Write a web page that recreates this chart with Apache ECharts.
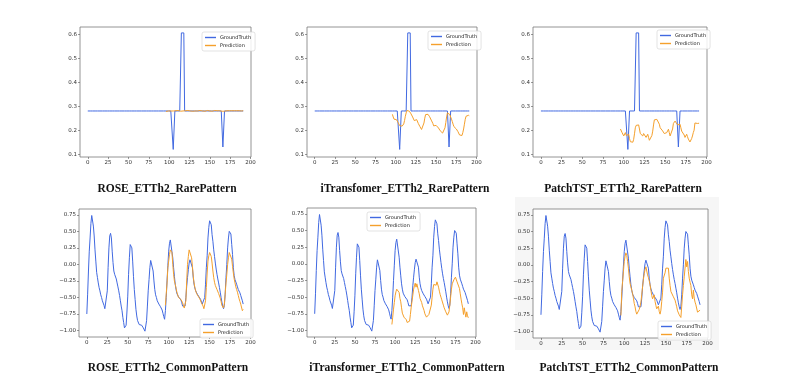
<!DOCTYPE html>
<html>
<head>
<meta charset="utf-8">
<script src="https://cdn.jsdelivr.net/npm/echarts@6/dist/echarts.min.js"></script>
<style>html,body{margin:0;padding:0;background:#fff}#c{width:798px;height:382px}</style>
</head>
<body>
<div id="c"></div>
<script>
// ---------- DATA ----------
const xTicks = [0, 25, 50, 75, 100, 125, 150, 175, 200];
const rareTicks = [0.1, 0.2, 0.3, 0.4, 0.5, 0.6];
const commonTicks = [-1.0, -0.75, -0.5, -0.25, 0, 0.25, 0.5, 0.75];
const predStart = 96;

const titlesRare = ["ROSE_ETTh2_RarePattern", "iTransfomer_ETTh2_RarePattern", "PatchTST_ETTh2_RarePattern"];
const titlesCommon = ["ROSE_ETTh2_CommonPattern", "iTransformer_ETTh2_CommonPattern", "PatchTST_ETTh2_CommonPattern"];

// Ground truth, rare pattern (t = 0..191)
const gtRare = [
0.28,0.28,0.28,0.28,0.28,0.28,0.28,0.28,0.28,0.28,0.28,0.28,0.28,0.28,0.28,0.28,
0.28,0.28,0.28,0.28,0.28,0.28,0.28,0.28,0.28,0.28,0.28,0.28,0.28,0.28,0.28,0.28,
0.28,0.28,0.28,0.28,0.28,0.28,0.28,0.28,0.28,0.28,0.28,0.28,0.28,0.28,0.28,0.28,
0.28,0.28,0.28,0.28,0.28,0.28,0.28,0.28,0.28,0.28,0.28,0.28,0.28,0.28,0.28,0.28,
0.28,0.28,0.28,0.28,0.28,0.28,0.28,0.28,0.28,0.28,0.28,0.28,0.28,0.28,0.28,0.28,
0.28,0.28,0.28,0.28,0.28,0.28,0.28,0.28,0.28,0.28,0.28,0.28,0.28,0.28,0.28,0.28,
0.28,0.28,0.28,0.28,0.28,0.28,0.28,0.28,0.28,0.12,0.113,0.28,0.28,0.28,0.28,0.28,
0.28,0.28,0.28,0.605,0.605,0.605,0.605,0.28,0.28,0.28,0.28,0.28,0.28,0.28,0.28,0.28,
0.28,0.28,0.28,0.28,0.28,0.28,0.28,0.28,0.28,0.28,0.28,0.28,0.28,0.28,0.28,0.28,
0.28,0.28,0.28,0.28,0.28,0.28,0.28,0.28,0.28,0.28,0.28,0.28,0.28,0.28,0.28,0.28,
0.28,0.28,0.28,0.28,0.28,0.28,0.13,0.13,0.28,0.28,0.28,0.28,0.28,0.28,0.28,0.28,
0.28,0.28,0.28,0.28,0.28,0.28,0.28,0.28,0.28,0.28,0.28,0.28,0.28,0.28,0.28,0.28
];

// Predictions, rare pattern (t = 96..191)
const roseRare = [
0.278,0.279,0.281,0.280,0.279,0.282,0.280,0.279,0.281,0.280,0.278,0.280,0.281,0.279,0.280,0.282,
0.281,0.280,0.279,0.281,0.282,0.280,0.279,0.280,0.281,0.279,0.280,0.282,0.281,0.279,0.280,0.281,
0.280,0.279,0.281,0.282,0.280,0.279,0.281,0.280,0.279,0.280,0.282,0.281,0.279,0.280,0.281,0.280,
0.279,0.281,0.280,0.282,0.281,0.279,0.280,0.281,0.280,0.279,0.281,0.280,0.282,0.280,0.279,0.281,
0.280,0.279,0.281,0.282,0.280,0.279,0.281,0.280,0.279,0.280,0.282,0.281,0.279,0.280,0.281,0.280,
0.279,0.281,0.280,0.282,0.281,0.279,0.280,0.281,0.280,0.279,0.281,0.280,0.282,0.280,0.279,0.281
];
const itransRare = [
0.266,0.255,0.246,0.238,0.240,0.244,0.240,0.232,0.225,0.219,0.215,0.214,0.217,0.221,0.226,0.240,
0.258,0.272,0.282,0.283,0.281,0.279,0.278,0.268,0.260,0.255,0.248,0.240,0.236,0.240,0.244,0.238,
0.228,0.220,0.215,0.208,0.203,0.200,0.210,0.230,0.250,0.265,0.272,0.270,0.266,0.264,0.256,0.248,
0.242,0.237,0.228,0.218,0.213,0.216,0.220,0.222,0.215,0.209,0.205,0.198,0.192,0.190,0.188,0.187,
0.195,0.210,0.232,0.255,0.272,0.270,0.268,0.265,0.255,0.246,0.236,0.225,0.215,0.214,0.213,0.205,
0.200,0.194,0.186,0.180,0.176,0.174,0.178,0.190,0.205,0.225,0.245,0.258,0.262,0.265,0.262,0.260
];
const patchRare = [
0.205,0.198,0.190,0.182,0.176,0.183,0.190,0.178,0.170,0.176,0.183,0.165,0.152,0.147,0.145,0.150,
0.162,0.185,0.210,0.220,0.226,0.228,0.222,0.205,0.186,0.182,0.178,0.176,0.186,0.190,0.178,0.170,
0.177,0.183,0.170,0.158,0.160,0.163,0.178,0.196,0.222,0.243,0.244,0.243,0.245,0.246,0.243,0.225,
0.210,0.207,0.204,0.197,0.190,0.186,0.183,0.186,0.190,0.197,0.204,0.190,0.176,0.178,0.183,0.205,
0.228,0.234,0.238,0.235,0.230,0.222,0.216,0.220,0.225,0.210,0.196,0.193,0.190,0.180,0.170,0.176,
0.183,0.173,0.163,0.157,0.151,0.150,0.165,0.176,0.190,0.200,0.230,0.228,0.227,0.228,0.230,0.229
];

// Ground truth, common pattern (t = 0..191)
const gtCommon = [
-0.75,-0.45,-0.10,0.20,0.40,0.62,0.74,0.72,0.58,0.43,0.22,0.05,-0.12,-0.20,-0.28,-0.35,
-0.40,-0.46,-0.50,-0.55,-0.58,-0.62,-0.67,-0.68,-0.65,-0.40,-0.05,0.25,0.43,0.47,0.40,0.20,
0.03,-0.10,-0.15,-0.18,-0.22,-0.28,-0.34,-0.40,-0.47,-0.55,-0.63,-0.70,-0.80,-0.88,-0.96,-0.97,
-0.92,-0.72,-0.48,-0.15,0.10,0.30,0.33,0.25,0.05,-0.18,-0.38,-0.53,-0.68,-0.78,-0.85,-0.88,
-0.91,-0.92,-0.92,-0.92,-0.94,-0.96,-0.99,-1.01,-0.99,-0.85,-0.63,-0.40,-0.23,-0.05,0.06,0.07,
0.04,-0.10,-0.25,-0.38,-0.46,-0.50,-0.55,-0.58,-0.60,-0.62,-0.64,-0.66,-0.69,-0.74,-0.79,-0.83,
-0.70,-0.50,-0.25,-0.02,0.20,0.32,0.37,0.37,0.34,0.10,-0.05,-0.18,-0.30,-0.38,-0.44,-0.47,
-0.49,-0.50,-0.52,-0.54,-0.58,-0.63,-0.65,-0.66,-0.63,-0.50,-0.33,-0.20,-0.08,0.02,0.07,0.09,
0.05,-0.05,-0.20,-0.30,-0.36,-0.40,-0.43,-0.45,-0.47,-0.49,-0.51,-0.53,-0.56,-0.60,-0.63,-0.62,
-0.50,-0.30,-0.05,0.13,0.40,0.56,0.66,0.65,0.60,0.45,0.35,0.22,0.12,0.02,-0.07,-0.15,
-0.22,-0.28,-0.35,-0.42,-0.50,-0.57,-0.63,-0.67,-0.62,-0.45,-0.20,0.00,0.25,0.40,0.50,0.52,
0.46,0.30,0.15,-0.05,-0.17,-0.23,-0.26,-0.30,-0.34,-0.38,-0.40,-0.43,-0.47,-0.50,-0.55,-0.60
];

// Predictions, common pattern (t = 96..191)
const roseCommon = [
-0.62,-0.45,-0.28,-0.05,0.05,0.15,0.22,0.24,0.18,0.00,-0.15,-0.25,-0.30,-0.36,-0.42,-0.46,
-0.50,-0.50,-0.52,-0.53,-0.56,-0.58,-0.62,-0.66,-0.64,-0.55,-0.25,0.00,0.12,0.22,0.25,0.23,
0.10,-0.03,-0.18,-0.28,-0.35,-0.40,-0.44,-0.46,-0.48,-0.50,-0.52,-0.55,-0.58,-0.61,-0.63,-0.67,
-0.65,-0.55,-0.35,-0.13,0.05,0.13,0.18,0.17,0.12,0.02,-0.10,-0.20,-0.27,-0.32,-0.35,-0.38,
-0.41,-0.44,-0.47,-0.51,-0.56,-0.62,-0.65,-0.66,-0.60,-0.45,-0.28,-0.15,0.00,0.10,0.18,0.20,
0.18,0.08,-0.03,-0.13,-0.22,-0.28,-0.34,-0.38,-0.42,-0.47,-0.52,-0.56,-0.60,-0.63,-0.70,-0.68
];
const itransCommon = [
-0.91,-0.80,-0.68,-0.58,-0.48,-0.42,-0.38,-0.37,-0.41,-0.43,-0.52,-0.57,-0.66,-0.74,-0.77,-0.80,
-0.78,-0.83,-0.84,-0.88,-0.85,-0.91,-0.86,-0.76,-0.65,-0.56,-0.47,-0.38,-0.33,-0.29,-0.35,-0.30,
-0.33,-0.40,-0.45,-0.52,-0.55,-0.58,-0.63,-0.66,-0.70,-0.75,-0.78,-0.80,-0.77,-0.81,-0.76,-0.78,
-0.73,-0.62,-0.50,-0.38,-0.31,-0.33,-0.29,-0.32,-0.27,-0.30,-0.35,-0.41,-0.46,-0.50,-0.54,-0.57,
-0.62,-0.66,-0.69,-0.72,-0.75,-0.77,-0.74,-0.72,-0.62,-0.50,-0.38,-0.30,-0.27,-0.24,-0.22,-0.20,
-0.23,-0.27,-0.25,-0.30,-0.37,-0.45,-0.53,-0.60,-0.66,-0.76,-0.66,-0.74,-0.80,-0.72,-0.78,-0.81
];
const patchCommon = [
-0.76,-0.40,-0.25,-0.10,0.05,0.13,0.18,0.14,0.05,-0.05,-0.18,-0.28,-0.33,-0.38,-0.43,-0.50,
-0.58,-0.63,-0.70,-0.74,-0.76,-0.73,-0.67,-0.62,-0.56,-0.45,-0.33,-0.22,-0.13,-0.07,-0.03,-0.06,
-0.15,-0.19,-0.24,-0.30,-0.38,-0.46,-0.51,-0.48,-0.45,-0.55,-0.61,-0.66,-0.64,-0.62,-0.70,-0.74,
-0.68,-0.55,-0.41,-0.20,-0.18,-0.12,-0.05,-0.03,-0.03,-0.05,-0.20,-0.31,-0.40,-0.42,-0.42,-0.48,
-0.51,-0.53,-0.58,-0.63,-0.69,-0.72,-0.75,-0.77,-0.79,-0.62,-0.45,-0.31,-0.18,-0.05,0.08,-0.03,
0.05,-0.10,-0.20,-0.26,-0.31,-0.45,-0.51,-0.38,-0.50,-0.56,-0.60,-0.63,-0.71,-0.68,-0.68,-0.68
];

// ---------- CHART ----------
const BLUE = '#4169e1', ORANGE = '#f5a02c';
const rareRange = [0.0884, 0.6296];
const commonRange = [-1.098, 0.838];

const grids = [
  {left: 80, top: 27, width: 171, height: 130},
  {left: 307, top: 27, width: 170, height: 130},
  {left: 533, top: 27, width: 174, height: 130},
  {left: 79, top: 209, width: 172, height: 128},
  {left: 307, top: 208, width: 169, height: 129},
  {left: 533, top: 209, width: 175, height: 129}
];
const legendPos = [
  {left: 202, top: 32}, {left: 428, top: 31}, {left: 657, top: 30},
  {left: 200, top: 319}, {left: 367, top: 212}, {left: 658, top: 321}
];
const panels = [
  {gt: gtRare, pred: roseRare, rare: true},
  {gt: gtRare, pred: itransRare, rare: true},
  {gt: gtRare, pred: patchRare, rare: true},
  {gt: gtCommon, pred: roseCommon, rare: false},
  {gt: gtCommon, pred: itransCommon, rare: false},
  {gt: gtCommon, pred: patchCommon, rare: false}
];

const tickFont = {fontFamily: 'DejaVu Sans', fontSize: 5.5, color: '#333'};
const tickStyle = {length: 2, lineStyle: {color: '#555', width: 0.6}};
const titleFont = {fontFamily: 'Liberation Serif', fontWeight: 'bold', fontSize: 11.5, color: '#111'};

const option = {
  animation: false,
  backgroundColor: '#fff',
  graphic: [{type: 'rect', shape: {x: 515, y: 197, width: 204, height: 153}, style: {fill: '#f6f6f6'}, z: -10}],
  grid: grids.map((g, i) => Object.assign({show: true, borderColor: '#7a7a7a', borderWidth: 0.8,
    backgroundColor: i === 5 ? '#ffffff' : 'transparent', containLabel: false}, g)),
  xAxis: grids.map((g, i) => ({
    type: 'value', gridIndex: i, min: -9.55, max: 200.55, position: 'bottom',
    axisLine: {show: false, onZero: false},
    splitLine: {show: false},
    axisTick: Object.assign({show: true, customValues: xTicks}, tickStyle),
    axisLabel: Object.assign({customValues: xTicks, margin: 3, formatter: v => String(Math.round(v))}, tickFont)
  })),
  yAxis: panels.map((p, i) => {
    const ticks = p.rare ? rareTicks : commonTicks;
    const rng = p.rare ? rareRange : commonRange;
    return {
      type: 'value', gridIndex: i, min: rng[0], max: rng[1], position: 'left',
      axisLine: {show: false, onZero: false},
      splitLine: {show: false},
      axisTick: Object.assign({show: true, customValues: ticks}, tickStyle),
      axisLabel: Object.assign({customValues: ticks, margin: 3,
        formatter: v => (p.rare ? v.toFixed(1) : v.toFixed(2)).replace('-', '\u2212')}, tickFont)
    };
  }),
  legend: legendPos.map((lp, i) => ({
    left: lp.left, top: lp.top, orient: 'vertical',
    data: [{name: 'GroundTruth'}, {name: 'Prediction'}],
    icon: 'rect', itemWidth: 11, itemHeight: 1.4, itemGap: 3,
    padding: [3, 4, 3, 3], borderColor: '#d0d0d0', borderWidth: 0.6, borderRadius: 2,
    backgroundColor: 'rgba(255,255,255,0.85)',
    textStyle: {fontFamily: 'DejaVu Sans', fontSize: 5, color: '#222', padding: [0, 0, 0, -1]},
    selectedMode: false
  })),
  title: titlesRare.map((t, i) => ({
    text: t, left: [162, 400, 618][i], top: 178, textAlign: 'center', textStyle: titleFont
  })).concat(titlesCommon.map((t, i) => ({
    text: t, left: [163, 402, 624][i], top: 357, textAlign: 'center', textStyle: titleFont
  }))),
  series: []
};

panels.forEach((p, i) => {
  option.series.push({
    name: 'GroundTruth', type: 'line', xAxisIndex: i, yAxisIndex: i, showSymbol: false, symbol: 'none',
    data: p.gt.map((v, k) => [k, v]), lineStyle: {color: BLUE, width: 1}, itemStyle: {color: BLUE}, z: 2
  });
  option.series.push({
    name: 'Prediction', type: 'line', xAxisIndex: i, yAxisIndex: i, showSymbol: false, symbol: 'none',
    data: p.pred.map((v, k) => [k + predStart, v]), lineStyle: {color: ORANGE, width: 1}, itemStyle: {color: ORANGE}, z: 3
  });
});

const chart = echarts.init(document.getElementById('c'), null, {renderer: 'canvas'});
chart.setOption(option);
</script>
</body>
</html>
